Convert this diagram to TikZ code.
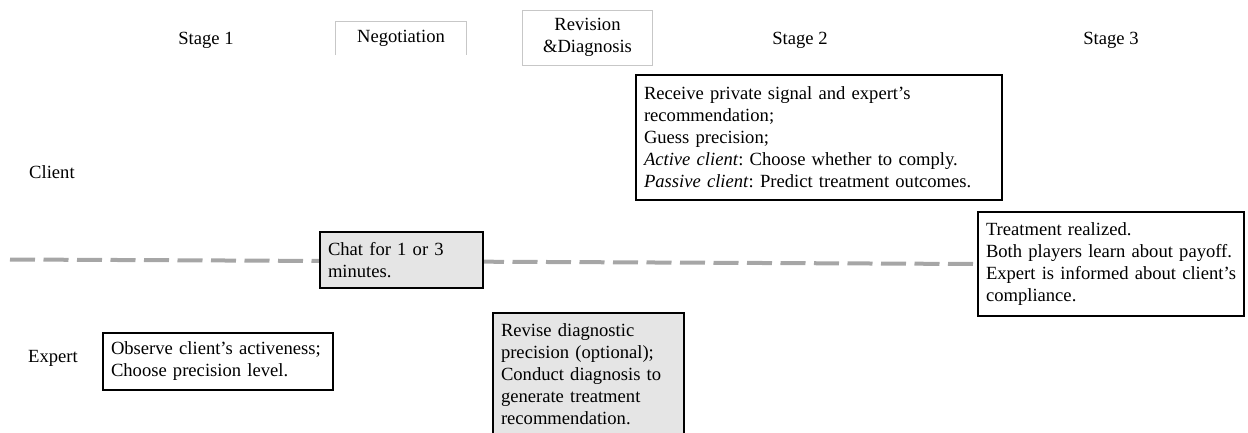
\documentclass[tikz,border=0pt]{standalone}
\usepackage{fontspec}
\setmainfont{Liberation Serif}
\frenchspacing
\pgfdeclarelayer{background}
\pgfsetlayers{background,main}
\begin{document}
\begin{tikzpicture}[x=1pt,y=-1pt,font=\fontsize{18.6}{22}\selectfont\frenchspacing,
  lbl/.style={inner sep=0pt},
  box/.style={draw=black,line width=1.2pt,align=left,inner xsep=8pt,inner ysep=0pt,fill=white},
  graybox/.style={box,fill=gray!20},
  hdr/.style={draw=black!22,line width=0.9pt,align=center,inner sep=0pt},
  hdrline/.style={draw=black!22,line width=0.9pt},
  dashline/.style={draw=gray!70,line width=4pt,dash pattern=on 25pt off 8.5pt}]
\useasboundingbox (0,0) rectangle (1248,433);

% header
\node[lbl] (s1) at (206,40) {Stage 1};
\node[lbl,minimum width=130pt,minimum height=33pt] (neg) at (401,38.5) {Negotiation};
\draw[hdrline] (neg.south west) -- (neg.north west) -- (neg.north east) -- (neg.south east);
\node[hdr,minimum width=130pt,minimum height=55pt] (rev) at (587.5,37.5) {Revision\\\&Diagnosis};
\node[lbl] (s2) at (800,40) {Stage 2};
\node[lbl] (s3) at (1111,40) {Stage 3};

% rows
\node[lbl,anchor=west] (client) at (29,172) {Client};
\node[lbl,anchor=west] (expert) at (28,358) {Expert};

% boxes
\node[box,text width=350pt,minimum height=125pt] (recv) at (819,137.5)
  {\mbox{Receive private signal and expert's}\\
   recommendation;\\
   Guess precision;\\
   \mbox{\textit{Active client}: Choose whether to comply.}\\
   \mbox{\textit{Passive client}: Predict treatment outcomes.}};
\node[graybox,text width=147pt,minimum height=56pt] (chat) at (401.5,260)
  {\mbox{Chat for 1 or 3}\\minutes.};
\node[box,text width=250pt,minimum height=104pt] (treat) at (1111,264)
  {Treatment realized.\\
   \mbox{Both players learn about payoff.}\\
   \mbox{Expert is informed about client's}\\
   compliance.};
\node[box,text width=214pt,minimum height=57pt] (obs) at (218,361.5)
  {\mbox{Observe client's activeness;}\\
   \mbox{Choose precision level.}};
\node[graybox,text width=175pt,minimum height=122pt] (revise) at (588.5,374)
  {\mbox{Revise diagnostic}\\
   \mbox{precision (optional);}\\
   \mbox{Conduct diagnosis to}\\
   \mbox{generate treatment}\\
   recommendation.};

% timeline
\begin{pgfonlayer}{background}
\coordinate (dstart) at (10,259.5);
\draw[dashline] (dstart) -- (treat.west);
\end{pgfonlayer}
\end{tikzpicture}
\end{document}
